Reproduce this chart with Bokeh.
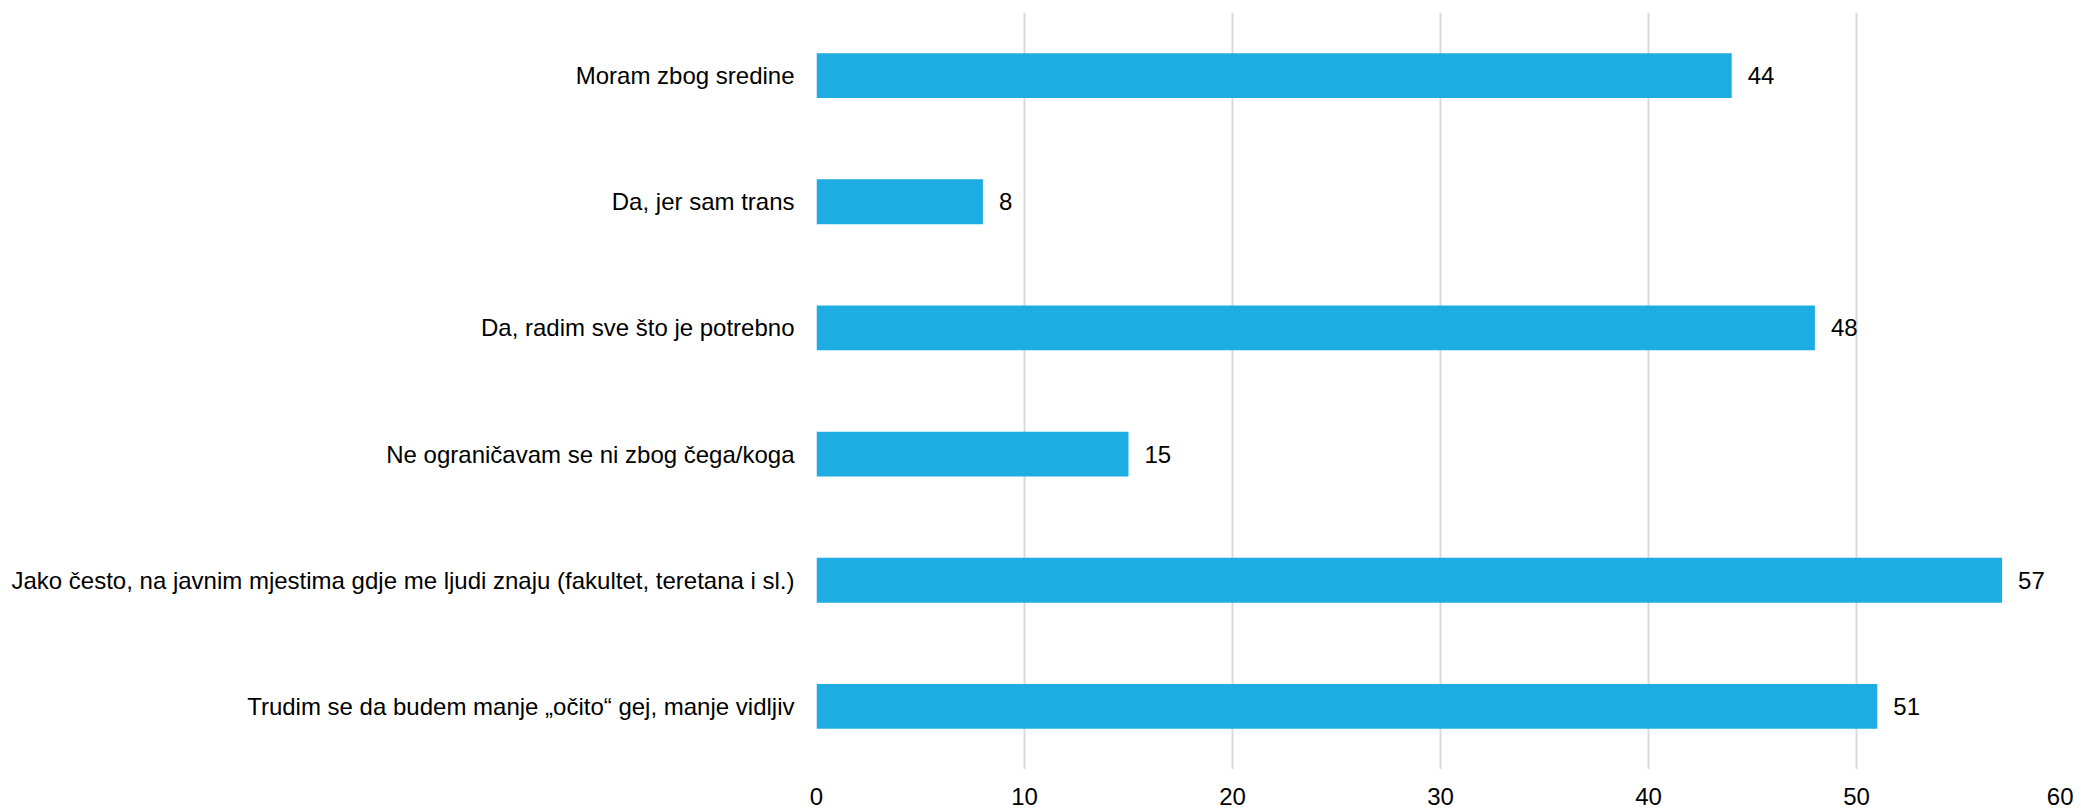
from bokeh.plotting import figure
from bokeh.models import ColumnDataSource, FactorRange, Range1d, FixedTicker
from bokeh.core.properties import value
from bokeh.embed import file_html
from bokeh.resources import INLINE

categories = [
    "Moram zbog sredine",
    "Da, jer sam trans",
    "Da, radim sve što je potrebno",
    "Ne ograničavam se ni zbog čega/koga",
    "Jako često, na javnim mjestima gdje me ljudi znaju (fakultet, teretana i sl.)",
    "Trudim se da budem manje „očito“ gej, manje vidljiv",
]
values = [44, 8, 48, 15, 57, 51]
x_ticks = [0, 10, 20, 30, 40, 50, 60]

FONT = "Liberation Sans"

src = ColumnDataSource(dict(cat=categories, val=values, lbl=[str(v) for v in values]))

p = figure(
    width=2073, height=809,
    y_range=FactorRange(*reversed(categories), range_padding=0),
    x_range=Range1d(0, 60),
    output_backend="svg", toolbar_location=None,
    min_border_left=816, min_border_right=9, min_border_top=12, min_border_bottom=40,
)
p.y_range.range_padding = 0
p.hbar(y="cat", right="val", left=0, height=0.356, source=src,
       fill_color="#1EADE3", line_color=None)
p.text(x="val", y="cat", text="lbl", source=src, x_offset=16,
       text_align="left", text_baseline="middle",
       text_font=value(FONT), text_font_size="24px", text_color="#000000")

p.outline_line_color = None
p.xgrid.grid_line_color = "#D9D9D9"
p.xgrid.grid_line_width = 2
p.ygrid.grid_line_color = None
p.xaxis.ticker = FixedTicker(ticks=x_ticks)
for ax in (p.xaxis, p.yaxis):
    ax.axis_line_color = None
    ax.major_tick_line_color = None
    ax.minor_tick_line_color = None
    ax.major_label_text_font = FONT
    ax.major_label_text_color = "#000000"
p.xaxis.major_label_text_font_size = "24px"
p.yaxis.major_label_text_font_size = "24px"
p.xaxis.major_label_standoff = 18
p.yaxis.major_label_standoff = 22
p.yaxis.major_tick_out = 0
p.xaxis.major_tick_out = 0

open("out.html", "w").write(file_html(p, INLINE))
